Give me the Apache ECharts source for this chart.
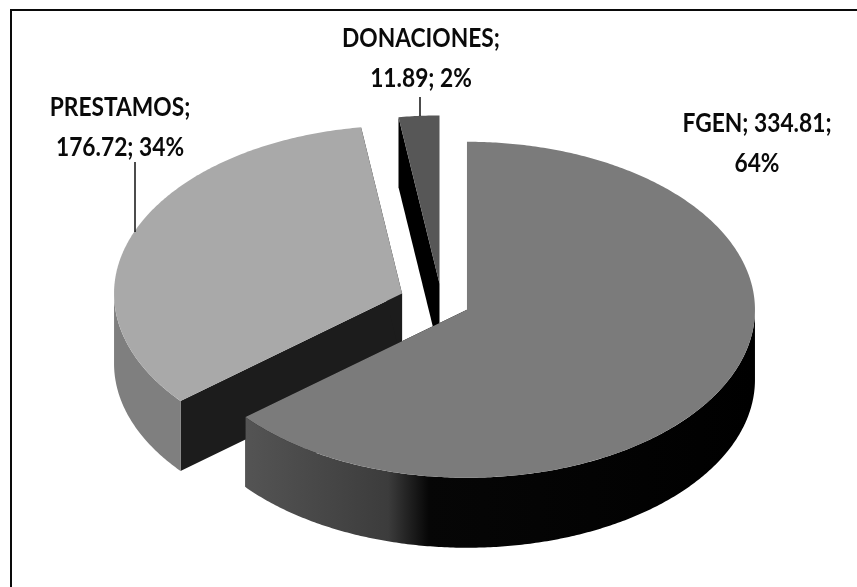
<!DOCTYPE html>
<html>
<head>
<meta charset="utf-8">
<style>
  html, body { margin: 0; padding: 0; background: #fff; }
  #main { width: 857px; height: 587px; }
</style>
<script src="https://cdn.jsdelivr.net/npm/echarts@6/dist/echarts.min.js"></script>
</head>
<body>
<div id="main"></div>
<script>
// datos
var categories = ["FGEN", "PRESTAMOS", "DONACIONES"];
var amounts = [334.81, 176.72, 11.89];
var percents = [64, 34, 2];

// --- aspecto ---
var center = [435, 301];
var rx = 288, ry = 168, depth = 70;
var explode = 0.1226;
var sliceNudge = [[0, 0], [0, 0], [7, 3]];
var topColors = ["#7b7b7b", "#a9a9a9", "#575757"];
var radialColors = ["#000", "#1c1c1c", "#000"];
var outerColors = [
  new echarts.graphic.LinearGradient(0, 0, 1, 0, [
    { offset: 0, color: "#545454" },
    { offset: 0.28, color: "#3c3c3c" },
    { offset: 0.36, color: "#060606" },
    { offset: 1, color: "#000" }
  ]),
  "#7f7f7f",
  "#000"
];
var labelBreaks = ["FGEN; 334.81;\n64%", null, null];
var labelPos = [[757, 144], [120, 128], [421, 59]];
var labelStretch = 0.875;
var leaders = [null, [[135, 162], [135, 232]], [[420, 97], [420, 116]]];
var drawOrder = [2, 1, 0];

var total = amounts.reduce(function (a, b) { return a + b; }, 0);
var bounds = [];
var acc = 0;
amounts.forEach(function (v) {
  var s = acc / total * Math.PI * 2;
  acc += v;
  bounds.push([s, acc / total * Math.PI * 2]);
});

// angulo en sentido horario desde arriba -> punto de la elipse
function rim(o, a, dy) {
  return [o[0] + Math.sin(a) * rx, o[1] - Math.cos(a) * ry + (dy || 0)];
}
function arcPts(o, a0, a1, dy) {
  var pts = [];
  var n = Math.max(2, Math.ceil((a1 - a0) / 0.01));
  for (var i = 0; i <= n; i++) pts.push(rim(o, a0 + (a1 - a0) * i / n, dy));
  return pts;
}
function poly(points, fill) {
  return { type: "polygon", shape: { points: points }, style: { fill: fill } };
}

function renderSlice(params, api) {
  var i = api.value(0);
  var a0 = bounds[i][0], a1 = bounds[i][1], mid = (a0 + a1) / 2;
  var o = [
    center[0] + Math.sin(mid) * rx * explode + sliceNudge[i][0],
    center[1] - Math.cos(mid) * ry * explode + sliceNudge[i][1]
  ];
  var low = [o[0], o[1] + depth];
  var kids = [];
  // paredes radiales
  [a0, a1].forEach(function (a) {
    var p = rim(o, a), q = rim(o, a, depth);
    kids.push(poly([o, p, q, low], radialColors[i]));
  });
  // pared exterior, solo la mitad frontal
  var f0 = Math.max(a0, Math.PI / 2), f1 = Math.min(a1, Math.PI * 1.5);
  if (f1 > f0) {
    kids.push(poly(arcPts(o, f0, f1).concat(arcPts(o, f0, f1, depth).reverse()), outerColors[i]));
  }
  // tapa
  kids.push(poly([o].concat(arcPts(o, a0, a1)), topColors[i]));
  return { type: "group", children: kids };
}

function renderLabel(params, api) {
  var i = api.value(0);
  var text = labelBreaks[i] || (categories[i] + ";\n" + amounts[i] + "; " + percents[i] + "%");
  var kids = [{
    type: "text",
    x: labelPos[i][0],
    y: labelPos[i][1],
    scaleX: labelStretch,
    style: {
      text: text,
      x: 0,
      y: 0,
      align: "center",
      verticalAlign: "middle",
      font: "bold 26px Lato",
      lineHeight: 40,
      fill: "#0a0a0a"
    }
  }];
  if (leaders[i]) {
    kids.push({
      type: "line",
      shape: { x1: leaders[i][0][0], y1: leaders[i][0][1], x2: leaders[i][1][0], y2: leaders[i][1][1] },
      style: { stroke: "#111", lineWidth: 1.5 }
    });
  }
  return { type: "group", children: kids };
}

var myChart = echarts.init(document.getElementById("main"), null, { renderer: "canvas" });
myChart.setOption({
  animation: false,
  backgroundColor: "#fff",
  graphic: [{
    type: "polyline",
    z: 0,
    shape: { points: [[11, 587], [11, 10], [857, 10]] },
    style: { fill: "none", stroke: "#0a0a0a", lineWidth: 2 }
  }],
  series: [
    {
      type: "custom",
      coordinateSystem: "none",
      z: 2,
      silent: true,
      renderItem: renderSlice,
      data: drawOrder.map(function (i) { return [i]; })
    },
    {
      type: "custom",
      coordinateSystem: "none",
      z: 3,
      silent: true,
      renderItem: renderLabel,
      data: categories.map(function (c, i) { return [i]; })
    }
  ]
});
</script>
</body>
</html>
